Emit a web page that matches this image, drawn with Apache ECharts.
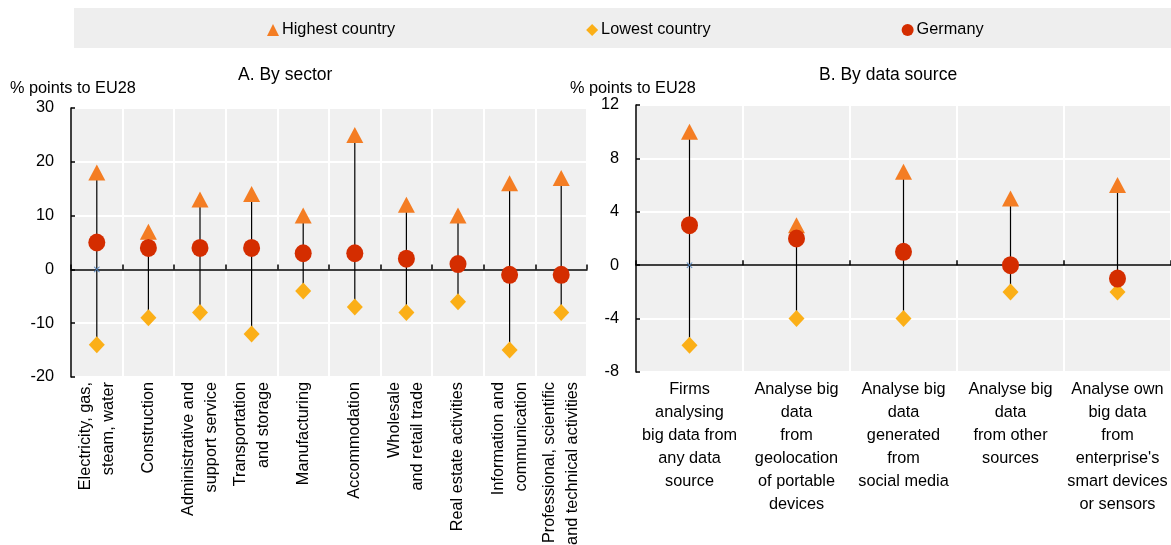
<!DOCTYPE html>
<html>
<head>
<meta charset="utf-8">
<script src="https://cdn.jsdelivr.net/npm/echarts@6/dist/echarts.min.js"></script>
<style>
html,body{margin:0;padding:0;background:#fff;}
#chart{width:1171px;height:545px;}
</style>
</head>
<body>
<div id="chart"></div>
<script>
// ---------- Data ----------
const sectorCategories = [
  'Electricity, gas,\nsteam, water',
  'Construction',
  'Administrative and\nsupport service',
  'Transportation\nand storage',
  'Manufacturing',
  'Accommodation',
  'Wholesale\nand retail trade',
  'Real estate activities',
  'Information and\ncommunication',
  'Professional, scientific\nand technical activities'
];
const sectorHighest = [18, 7, 13, 14, 10, 25, 12, 10, 16, 17];
const sectorLowest  = [-14, -9, -8, -12, -4, -7, -8, -6, -15, -8];
const sectorGermany = [5, 4, 4, 4, 3, 3, 2, 1, -1, -1];
const sectorEU28    = [0, null, null, null, null, null, null, null, null, null];

const sourceCategories = [
  'Firms\nanalysing\nbig data from\nany data\nsource',
  'Analyse big\ndata\nfrom\ngeolocation\nof portable\ndevices',
  'Analyse big\ndata\ngenerated\nfrom\nsocial media',
  'Analyse big\ndata\nfrom other\nsources',
  "Analyse own\nbig data\nfrom\nenterprise's\nsmart devices\nor sensors"
];
const sourceHighest = [10, 3, 7, 5, 6];
const sourceLowest  = [-6, -4, -4, -2, -2];
const sourceGermany = [3, 2, 1, 0, -1];
const sourceEU28    = [0, null, null, null, null];

const sectorTicks = { min: -20, max: 30, interval: 10 };
const sourceTicks = { min: -8, max: 12, interval: 4 };

const titleA = 'A. By sector';
const titleB = 'B. By data source';
const yUnit = '% points to EU28';
const seriesNames = ['Highest country', 'Lowest country', 'Germany'];

// ---------- Styles ----------
const FONT = "'Liberation Sans', Arial, sans-serif";
const FS = 16.3;
const C_HIGH = '#F47D23';
const C_LOW = '#FBAF17';
const C_DE = '#D42D00';
const C_EU = '#4F81BD';
const PLOT_BG = '#F0F0F0';
const crossPath = 'path://M1,0L5,4L9,0L10,1L6,5L10,9L9,10L5,6L1,10L0,9L4,5L0,1Z';

function rangeSeries(low, high, xi, yi) {
  return {
    type: 'custom',
    xAxisIndex: xi, yAxisIndex: yi,
    z: 1,
    silent: true,
    renderItem: function (params, api) {
      const x = api.value(0);
      const p1 = api.coord([x, api.value(1)]);
      const p2 = api.coord([x, api.value(2)]);
      return {
        type: 'line',
        shape: { x1: p1[0], y1: p1[1], x2: p2[0], y2: p2[1] },
        style: { stroke: '#000', lineWidth: 1.2 }
      };
    },
    data: low.map((v, i) => [i, v, high[i]])
  };
}

function markerSeries(high, low, de, eu, xi, yi) {
  return [
    { name: seriesNames[0], type: 'scatter', xAxisIndex: xi, yAxisIndex: yi, z: 3,
      symbol: 'triangle', symbolSize: [17, 16], itemStyle: { color: C_HIGH, opacity: 1 }, data: high },
    { name: seriesNames[1], type: 'scatter', xAxisIndex: xi, yAxisIndex: yi, z: 4,
      symbol: 'diamond', symbolSize: [16, 17], itemStyle: { color: C_LOW, opacity: 1 }, data: low },
    { name: seriesNames[2], type: 'scatter', xAxisIndex: xi, yAxisIndex: yi, z: 5,
      symbol: 'circle', symbolSize: [17, 18], itemStyle: { color: C_DE, opacity: 1 }, data: de },
    { name: 'EU28', type: 'scatter', xAxisIndex: xi, yAxisIndex: yi, z: 2,
      symbol: crossPath, symbolSize: 6, itemStyle: { color: C_EU, opacity: 1 }, data: eu }
  ];
}

function labelAxis(cats, gridIndex, labelOpts) {
  return {
    type: 'category', gridIndex: gridIndex, data: cats, position: 'bottom',
    axisLine: { show: false, onZero: false }, axisTick: { show: false },
    splitLine: { show: false },
    axisLabel: Object.assign({ interval: 0, color: '#000', fontFamily: FONT, fontSize: FS }, labelOpts)
  };
}
function zeroAxis(cats, gridIndex) {
  return {
    type: 'category', gridIndex: gridIndex, data: cats, position: 'bottom',
    axisLine: { show: true, onZero: true, lineStyle: { color: '#000', width: 1.5 } },
    axisTick: { show: true, inside: true, length: 5, interval: 0, lineStyle: { color: '#000', width: 1.5 } },
    axisLabel: { show: false },
    splitLine: { show: true, interval: 0, lineStyle: { color: '#fff', width: 2 } }
  };
}
function valueAxis(ticks, gridIndex) {
  return {
    type: 'value', gridIndex: gridIndex, min: ticks.min, max: ticks.max, interval: ticks.interval,
    axisLine: { show: true, lineStyle: { color: '#000', width: 1.5 } },
    axisTick: { show: true, inside: true, length: 4, lineStyle: { color: '#000', width: 1.5 } },
    axisLabel: { color: '#000', fontFamily: FONT, fontSize: FS, margin: 17 },
    splitLine: { show: true, lineStyle: { color: '#fff', width: 2 } }
  };
}

const txt = { color: '#000', fontFamily: FONT, fontSize: FS, fontWeight: 'normal' };
const titleTxt = { color: '#000', fontFamily: FONT, fontSize: 17.5, fontWeight: 'normal' };

const chart = echarts.init(document.getElementById('chart'), null, { renderer: 'canvas' });
chart.setOption({
  animation: false,
  backgroundColor: '#fff',
  graphic: [
    { type: 'rect', left: 74, top: 8, shape: { width: 1097, height: 40 }, style: { fill: '#EEEEEE' }, z: -10 }
  ],
  legend: {
    left: 267, top: 22, padding: 0,
    itemGap: 191, itemWidth: 12, itemHeight: 12,
    textStyle: { color: '#000', fontFamily: FONT, fontSize: FS, padding: [0, 0, 0, -2] },
    data: [
      { name: seriesNames[0], icon: 'triangle' },
      { name: seriesNames[1], icon: 'diamond' },
      { name: seriesNames[2], icon: 'circle' }
    ]
  },
  title: [
    { text: titleA, left: 238, top: 66, textStyle: titleTxt, padding: 0 },
    { text: titleB, left: 819, top: 66, textStyle: titleTxt, padding: 0 },
    { text: yUnit, left: 10, top: 81, textStyle: txt, padding: 0 },
    { text: yUnit, left: 570, top: 81, textStyle: txt, padding: 0 }
  ],
  grid: [
    { left: 71, top: 108, width: 516, height: 269, show: true, backgroundColor: PLOT_BG, borderWidth: 0,
      containLabel: false, outerBoundsMode: 'none' },
    { left: 636, top: 105, width: 535, height: 267, show: true, backgroundColor: PLOT_BG, borderWidth: 0,
      containLabel: false, outerBoundsMode: 'none' }
  ],
  xAxis: [
    zeroAxis(sectorCategories, 0),
    labelAxis(sectorCategories, 0, { rotate: 90, margin: 5, lineHeight: 23 }),
    zeroAxis(sourceCategories, 1),
    labelAxis(sourceCategories, 1, { margin: 6, lineHeight: 23 })
  ],
  yAxis: [
    valueAxis(sectorTicks, 0),
    valueAxis(sourceTicks, 1)
  ],
  series: [
    rangeSeries(sectorLowest, sectorHighest, 0, 0),
    ...markerSeries(sectorHighest, sectorLowest, sectorGermany, sectorEU28, 0, 0),
    rangeSeries(sourceLowest, sourceHighest, 2, 1),
    ...markerSeries(sourceHighest, sourceLowest, sourceGermany, sourceEU28, 2, 1)
  ]
});
</script>
</body>
</html>
